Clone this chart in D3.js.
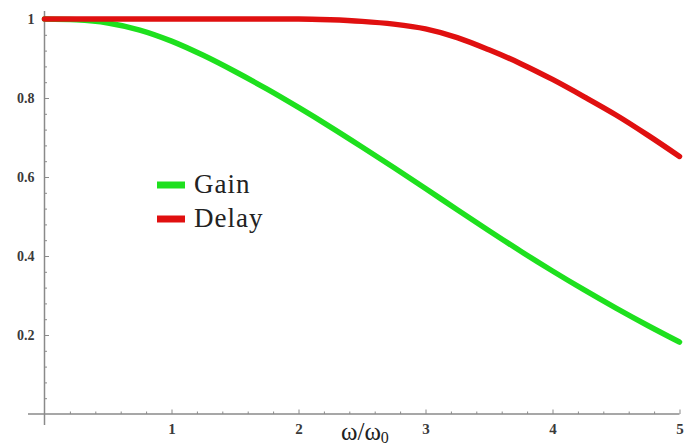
<!DOCTYPE html>
<html><head><meta charset="utf-8"><script src="https://cdn.jsdelivr.net/npm/d3@7"></script></head>
<body style="margin:0">
<script>
// frequency ratio w/w0
const freq = [0, 0.25, 0.5, 0.75, 1, 1.25, 1.5, 1.75, 2, 2.25, 2.5, 2.75, 3, 3.25, 3.5, 3.75, 4, 4.25, 4.5, 4.75, 5];
const gain = [1, 0.998, 0.99, 0.972, 0.944, 0.908, 0.867, 0.823, 0.776, 0.727, 0.676, 0.624, 0.571, 0.517, 0.464, 0.412, 0.362, 0.314, 0.268, 0.224, 0.182];
const delay = [1, 1, 1, 1, 1, 1, 1, 1, 1, 0.998, 0.994, 0.987, 0.975, 0.953, 0.922, 0.887, 0.847, 0.803, 0.757, 0.706, 0.652];

const seriesNames = ["Gain", "Delay"];
const seriesColors = ["#1ee01e", "#e01010"];

const xTickValues = [1, 2, 3, 4, 5];
const xTickLabels = ["1", "2", "3", "4", "5"];
const yTickValues = [0.2, 0.4, 0.6, 0.8, 1];
const yTickLabels = ["0.2", "0.4", "0.6", "0.8", "1"];

const width = 688, height = 448;
const fontName = '"Liberation Serif"';

const svg = d3.select("body").append("svg")
    .attr("width", width)
    .attr("height", height)
    .style("display", "block")
    .style("font-family", fontName);

// scales
const x = d3.scaleLinear().domain([0, 5]).range([44.5, 679.5]);
const y = d3.scaleLinear().domain([0, 1]).range([414, 19]);

const axisColor = "#8a8a8a";
const labelColor = "#3a3a3a";

// axis lines (cross at origin, with a small overhang)
svg.append("line")
    .attr("x1", x(-0.13)).attr("x2", x(5))
    .attr("y1", y(0)).attr("y2", y(0))
    .attr("stroke", axisColor).attr("stroke-width", 1.5);

svg.append("line")
    .attr("x1", x(0)).attr("x2", x(0))
    .attr("y1", y(-0.028)).attr("y2", y(1.02))
    .attr("stroke", axisColor).attr("stroke-width", 1.5);

// minor ticks
const xMinor = d3.range(1, 26).map(i => i * 0.2).filter(v => Math.abs(v - Math.round(v)) > 1e-6);
const yMinor = d3.range(1, 26).map(i => i * 0.04).filter(v => Math.abs(v * 5 - Math.round(v * 5)) > 1e-6);

const xMinorAxis = d3.axisBottom(x).tickValues(xMinor).tickFormat("").tickSize(-2.5).tickSizeOuter(0);
const yMinorAxis = d3.axisLeft(y).tickValues(yMinor).tickFormat("").tickSize(-2.5).tickSizeOuter(0);

svg.append("g").attr("transform", `translate(0, ${y(0)})`).call(xMinorAxis)
    .call(g => g.select(".domain").remove())
    .selectAll("line").attr("stroke", axisColor);
svg.append("g").attr("transform", `translate(${x(0)}, 0)`).call(yMinorAxis)
    .call(g => g.select(".domain").remove())
    .selectAll("line").attr("stroke", axisColor);

// major ticks with labels
const xAxis = d3.axisBottom(x)
    .tickValues(xTickValues)
    .tickFormat((d, i) => xTickLabels[i])
    .tickSize(-4.5).tickSizeOuter(0).tickPadding(9);

const yAxis = d3.axisLeft(y)
    .tickValues(yTickValues)
    .tickFormat((d, i) => yTickLabels[i])
    .tickSize(-4.5).tickSizeOuter(0).tickPadding(10);

const xg = svg.append("g").attr("transform", `translate(0, ${y(0)})`).call(xAxis);
xg.select(".domain").remove();
xg.attr("font-family", null).attr("font-size", null);
xg.selectAll("line").attr("stroke", axisColor);
xg.selectAll("text")
    .attr("fill", labelColor)
    .attr("font-size", 15)
    .attr("font-weight", "bold");

const yg = svg.append("g").attr("transform", `translate(${x(0)}, 0)`).call(yAxis);
yg.select(".domain").remove();
yg.attr("font-family", null).attr("font-size", null);
yg.selectAll("line").attr("stroke", axisColor);
yg.selectAll("text")
    .attr("fill", labelColor)
    .attr("font-size", 14)
    .attr("font-weight", "bold");

// x axis title
const title = svg.append("text")
    .attr("x", 341)
    .attr("y", 440)
    .attr("fill", "#222")
    .attr("font-size", 25);
title.append("tspan").text("ω/ω");
title.append("tspan").attr("dy", 3).attr("font-size", 16).text("0");

// curves
const line = d3.line()
    .x(d => x(d[0]))
    .y(d => y(d[1]))
    .curve(d3.curveMonotoneX);

const seriesValues = [gain, delay];
seriesValues.forEach((vals, i) => {
    svg.append("path")
        .datum(freq.map((f, j) => [f, vals[j]]))
        .attr("fill", "none")
        .attr("stroke", seriesColors[i])
        .attr("stroke-width", 5.5)
        .attr("stroke-linecap", "round")
        .attr("stroke-linejoin", "round")
        .attr("d", line);
});

// legend
const legend = svg.append("g").attr("transform", "translate(157, 185)");
seriesNames.forEach((name, i) => {
    const row = legend.append("g").attr("transform", `translate(0, ${i * 34})`);
    row.append("line")
        .attr("x1", 0).attr("x2", 28)
        .attr("y1", 0).attr("y2", 0)
        .attr("stroke", seriesColors[i])
        .attr("stroke-width", 7);
    row.append("text")
        .attr("x", 37)
        .attr("y", 8)
        .attr("fill", "#222")
        .attr("font-size", 27)
        .attr("letter-spacing", 1)
        .text(name);
});
</script>
</body>
</html>
